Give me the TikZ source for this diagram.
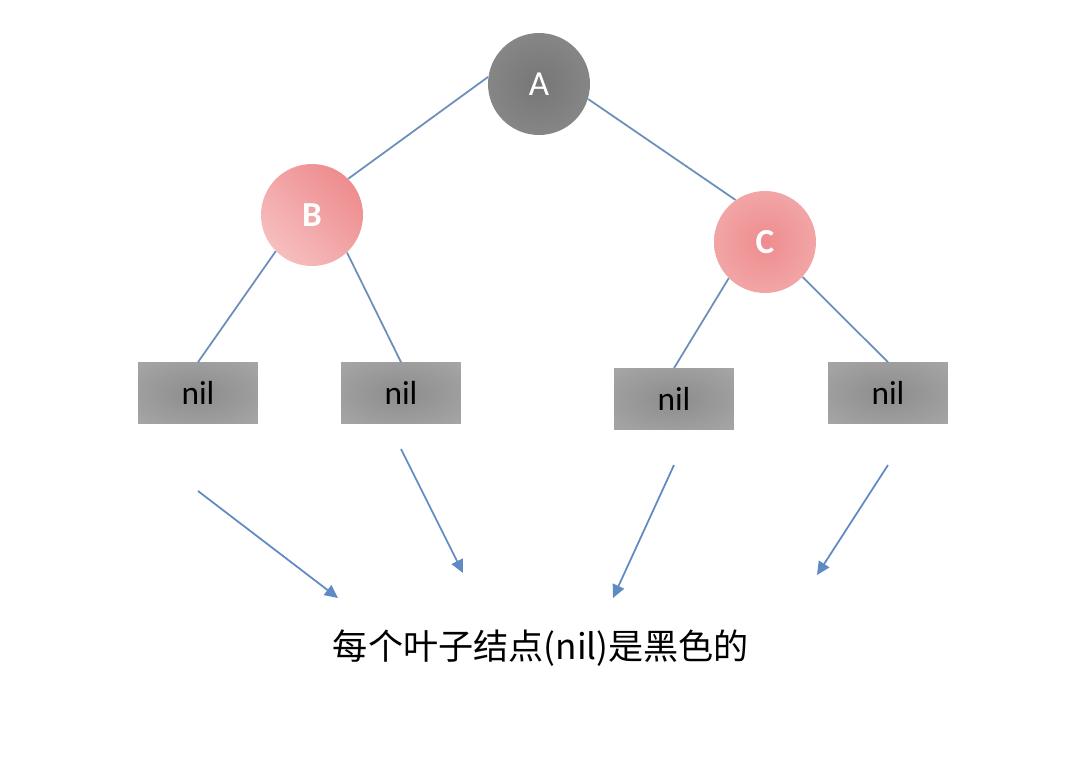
\documentclass[tikz,border=0pt]{standalone}
\usepackage{fontspec}
\newfontfamily\latinfont{Carlito}
\newfontfamily\cjk{Noto Sans CJK SC}
\usetikzlibrary{arrows.meta}
\definecolor{edgeblue}{RGB}{108,142,186}
\definecolor{arrowblue}{RGB}{96,138,196}
\definecolor{ballin}{RGB}{118,118,118}
\definecolor{ballout}{RGB}{150,150,150}
\definecolor{pinkdark}{RGB}{238,140,142}
\definecolor{pinklight}{RGB}{246,190,190}
\definecolor{nilin}{RGB}{140,140,140}
\definecolor{nilout}{RGB}{184,184,184}
\pgfdeclareradialshading{ballshade}{\pgfpoint{0bp}{0bp}}{color(0bp)=(ballin); color(50bp)=(ballout)}
\pgfdeclareradialshading{pinkshade}{\pgfpoint{0bp}{0bp}}{color(0bp)=(pinkdark); color(50bp)=(pinklight)}
\pgfdeclareradialshading{nilshade}{\pgfpoint{0bp}{0bp}}{color(0bp)=(nilin); color(60bp)=(nilout)}
\begin{document}
\begin{tikzpicture}[x=0.02cm,y=-0.02cm,
    ball/.style={circle,minimum size=2.04cm,inner sep=0pt,text=white,
        font=\latinfont\fontsize{20}{20}\selectfont},
    nilbox/.style={rectangle,minimum width=2.4cm,minimum height=1.22cm,inner sep=0pt,
        shading=nilshade,font=\latinfont\fontsize{19}{19}\selectfont},
    link/.style={edgeblue,line width=1pt},
    pointer/.style={arrowblue,line width=1pt,-{Triangle[length=7.5pt,width=7pt]}}]
    % 背景
    \fill[white] (0,0) rectangle (1080,762);
    \useasboundingbox (0,0) rectangle (1080,762);
    % 绘制三个结点
    \node[ball,shading=ballshade] (A) at (539,84) {A};
    \node[ball,shading=axis,top color=pinkdark,bottom color=pinklight,shading angle=-45,
        font=\latinfont\bfseries\fontsize{20}{20}\selectfont] (B) at (312,215) {B};
    \node[ball,shading=pinkshade,
        font=\latinfont\bfseries\fontsize{20}{20}\selectfont] (C) at (765,242) {C};
    % 绘制叶子结点
    \node[nilbox] (nilA) at (198,393) {nil};
    \node[nilbox] (nilB) at (401,393) {nil};
    \node[nilbox] (nilC) at (674,399) {nil};
    \node[nilbox] (nilD) at (888,393) {nil};
    % 连线
    \draw[link] (A.172) -- (B.45);
    \draw[link] (A.343) -- (C.125);
    \draw[link] (B.225) -- (nilA.north);
    \draw[link] (B.313) -- (nilB.north);
    \draw[link] (C.225) -- (nilC.north);
    \draw[link] (C.317) -- (nilD.north);
    % 箭头指向说明文字
    \coordinate (fromA) at (198,491);
    \coordinate (toA) at (338,598);
    \coordinate (fromB) at (401,449);
    \coordinate (toB) at (463,573);
    \coordinate (fromC) at (674,465);
    \coordinate (toC) at (613,598);
    \coordinate (fromD) at (888,465);
    \coordinate (toD) at (817,575);
    \draw[pointer] (fromA) -- (toA);
    \draw[pointer] (fromB) -- (toB);
    \draw[pointer] (fromC) -- (toC);
    \draw[pointer] (fromD) -- (toD);
    \node[font=\cjk\fontsize{20}{20}\selectfont] (note) at (541,648) {每个叶子结点(nil)是黑色的};
\end{tikzpicture}
\end{document}
